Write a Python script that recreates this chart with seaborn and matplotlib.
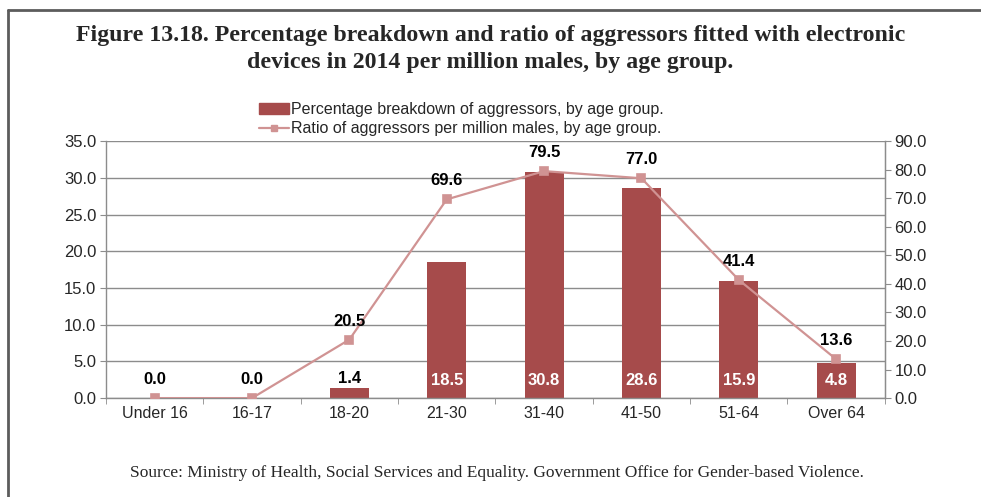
import matplotlib
matplotlib.use("Agg")
import matplotlib.pyplot as plt
from matplotlib.lines import Line2D
import numpy as np
import pandas as pd
import seaborn as sns

# data
age_groups = ['Under 16', '16-17', '18-20', '21-30', '31-40', '41-50', '51-64', 'Over 64']
pct_breakdown = [0.0, 0.0, 1.4, 18.5, 30.8, 28.6, 15.9, 4.8]
ratio_per_million = [0.0, 0.0, 20.5, 69.6, 79.5, 77.0, 41.4, 13.6]

bar_name = 'Percentage breakdown of aggressors, by age group.'
line_name = 'Ratio of aggressors per million males, by age group.'

df = pd.DataFrame({'grupo': age_groups, 'pct': pct_breakdown, 'ratio': ratio_per_million})

BAR_COLOR = '#a64b4b'
LINE_COLOR = '#d09393'
GRID = '#8c8c8c'

sns.set_style('white')
plt.rcParams['font.family'] = ['Liberation Sans', 'DejaVu Sans']

fig = plt.figure(figsize=(9.81, 4.97), dpi=100)
ax = fig.add_axes([0.108, 0.199, 0.794, 0.517])

sns.barplot(data=df, x='grupo', y='pct', color=BAR_COLOR, width=0.4,
            saturation=1, linewidth=0, ax=ax, zorder=2)
ax.set_ylim(0, 35)
ax.set_yticks(np.arange(0, 35.1, 5))
ax.set_yticklabels([f'{v:.1f}' for v in np.arange(0, 35.1, 5)], fontsize=12)
ax.set_xlim(-0.5, len(age_groups) - 0.5)
ax.grid(axis='y', color=GRID, linewidth=1, zorder=0)
ax.set_axisbelow(True)
ax.set_xlabel('')
ax.set_ylabel('')
ax.tick_params(axis='x', length=0, labelsize=11.5, pad=6)
ax.set_xticks(np.arange(-0.5, len(age_groups)), minor=True)
ax.tick_params(axis='x', which='minor', length=4, color=GRID, direction='out', bottom=True)
ax.tick_params(axis='y', length=4, color=GRID, direction='out', left=True, pad=3)
ax.spines['top'].set_visible(False)
for s in ['left', 'bottom', 'right']:
    ax.spines[s].set_color(GRID)
    ax.spines[s].set_linewidth(1)

# bar value labels
for i, v in enumerate(pct_breakdown):
    if v < 3:
        if v > 0:
            ax.text(i, v + 1.3, f'{v:.1f}', ha='center', va='center',
                    fontsize=12, fontweight='bold', color='black', zorder=5)
    else:
        ax.text(i, 2.45, f'{v:.1f}', ha='center', va='center',
                fontsize=12, fontweight='bold', color='white', zorder=5)

ax2 = ax.twinx()
sns.pointplot(data=df, x='grupo', y='ratio', color=LINE_COLOR, markers='s',
              markersize=6, linewidth=1.6, ax=ax2)
ax2.set_ylim(0, 90)
ax2.set_xlim(-0.5, len(age_groups) - 0.5)
ax2.set_yticks(np.arange(0, 90.1, 10))
ax2.set_yticklabels([f'{v:.1f}' for v in np.arange(0, 90.1, 10)], fontsize=12)
ax2.set_ylabel('')
ax2.tick_params(axis='y', length=4, color=GRID, direction='out', right=True, pad=3)
for s in ['top', 'left', 'bottom']:
    ax2.spines[s].set_visible(False)
ax2.spines['right'].set_color(GRID)
ax2.grid(False)

for i, v in enumerate(ratio_per_million):
    ax2.text(i, v + 6.5, f'{v:.1f}', ha='center', va='center',
             fontsize=12, fontweight='bold', color='black', zorder=5)

handles = [
    plt.Rectangle((0, 0), 1, 1, color=BAR_COLOR),
    Line2D([0], [0], color=LINE_COLOR, marker='s', markersize=5, linewidth=1.6),
]
fig.legend(handles, [bar_name, line_name], loc='center', bbox_to_anchor=(0.47, 0.76),
           frameon=False, fontsize=11.5, handlelength=1.9, handletextpad=0.1,
           labelspacing=0.25, borderpad=0)

fig.text(0.5, 0.902, 'Figure 13.18. Percentage breakdown and ratio of aggressors fitted with electronic\n'
         'devices in 2014 per million males, by age group.',
         ha='center', va='center', fontsize=17.2, fontweight='bold',
         family='Liberation Serif', linespacing=1.4)
fig.text(0.507, 0.048, 'Source: Ministry of Health, Social Services and Equality. '
         'Government Office for Gender-based Violence.',
         ha='center', va='center', fontsize=12.5, family='Liberation Serif')

# page frame
fig.add_artist(Line2D([0.008, 1.0], [0.98, 0.98], color='#5c5c5c', linewidth=2))
fig.add_artist(Line2D([0.008, 0.008], [0.0, 0.98], color='#5c5c5c', linewidth=2))

fig.savefig('out.png', dpi=100)
